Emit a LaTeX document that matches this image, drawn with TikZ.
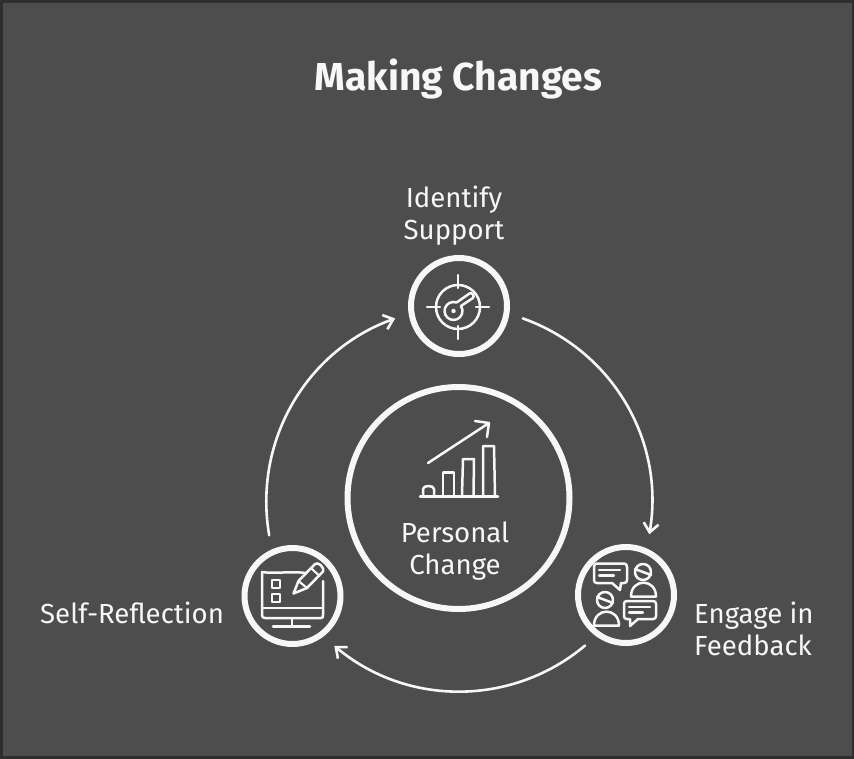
\documentclass[tikz,border=0pt]{standalone}
\usepackage{fontspec}
\setmainfont{Fira Sans}
\usetikzlibrary{arrows.meta}
\definecolor{bgc}{HTML}{4D4D4D}
\definecolor{edgec}{HTML}{2E2E2E}
\definecolor{ink}{HTML}{F7F7F7}
\tikzset{
  ring/.style={circle,draw=ink,line width=6pt,minimum size=96pt,inner sep=0pt,outer sep=17pt},
  hubring/.style={circle,draw=ink,line width=6pt,minimum size=222pt,inner sep=0pt,outer sep=0pt},
  flow/.style={draw=ink,line width=2.6pt,line cap=round,-{Straight Barb[length=9pt,width=15pt,line width=2.6pt]}},
  lbl/.style={text=ink,font=\fontsize{27.6}{32}\selectfont,align=center,inner sep=0pt},
  ico/.style={draw=ink,line width=2.5pt,line cap=round,line join=round},
  ico2/.style={draw=ink,line width=2.1pt,line cap=round,line join=round}
}
\begin{document}
\begin{tikzpicture}[x=1pt,y=-1pt]
\useasboundingbox (0,0) rectangle (854,758);
\fill[bgc] (0,0) rectangle (854,758);
\draw[edgec,line width=3pt] (1,1) rectangle (853,757);
\node[text=ink,font=\fontsize{39}{44}\bfseries,inner sep=0pt] (title) at (458.5,79) {Making Changes};
\node[hubring] (hub) at (458.5,498) {};
\node[ring] (top) at (459,306) {};
\node[ring] (right) at (626,595) {};
\node[ring] (left) at (292.5,596) {};
\node[lbl] (ltop) at (454,216) {Identify\\Support};
\node[lbl] (lhub) at (455,551.5) {Personal\\Change};
\node[lbl,anchor=west] (lleft) at (40,613) {Self-Reflection};
\node[lbl,anchor=west,align=left] (lright) at (694,628.5) {Engage in\\Feedback};
\draw[flow] (top.-11) to[bend left=40,looseness=.97] (right.69);
\draw[flow] (right.-129) to[bend left=40,looseness=.97] (left.-50);
\draw[flow] (left.111) to[bend left=40,looseness=.97] (top.-169);
% target icon
\draw[ico] (458,307) circle (22);
\draw[ico] (458,275) -- (458,288) (458,326) -- (458,339) (427,307) -- (440,307) (476,307) -- (489,307);
\draw[ico] (456.6,302.5) arc[start angle=-70,end angle=-394,radius=9] -- (473,298) .. controls (475,296) and (472,292) .. (469.5,293.5) -- cycle;
\fill[ink] (453.5,311) circle (2.2);
% chart icon
\draw[ico] (420,496.5) -- (498,496.5);
\draw[ico] (423,495) -- (423,489) .. controls (423,485) and (434,485) .. (434,489) -- (434,495);
\draw[ico] (443,495) -- (443,472.5) -- (454,472.5) -- (454,495);
\draw[ico] (462,495) -- (463,459) -- (474,459) -- (473.5,495);
\draw[ico] (483,495) -- (483,446) -- (494,446) -- (495,495);
\draw[ico] (428,463) -- (489,423) (475,421) -- (489,423) -- (487,437);
% monitor icon
\draw[ico] (306,573) .. controls (290,571) and (275,574) .. (262,572) -- (262,615) .. controls (262,617) and (263,618) .. (265,618) -- (321,618) .. controls (323,618) and (323,617) .. (323,615) -- (323,581);
\draw[ico] (263,608) -- (322,608) (292,619) -- (292,626) (273,626.5) -- (310,626.5);
\draw[ico2] (272,580) rectangle (280,588) (272,594) rectangle (280,602);
\draw[ico] (293.5,593.5) -- (298.5,581) -- (315,564) .. controls (318,561) and (325,568) .. (323,571.5) -- (307,588) -- cycle;
\draw[ico2] (298.5,581) -- (307,588) (311,568) -- (319.5,576);
% feedback icon
\draw[ico] (597,563.5) -- (624,563.5) .. controls (626,563.5) and (627,565) .. (627,567) -- (627,580) .. controls (627,582) and (626,583) .. (624,583) -- (621,583) -- (620,590) -- (612,583) -- (597,583) .. controls (595,583) and (594,582) .. (594,580) -- (594,567) .. controls (594,565) and (595,563.5) .. (597,563.5) -- cycle;
\draw[ico2] (599,570) -- (620,570) (599,575.5) -- (614,575.5);
\draw[ico] (643,572) circle (8) (635,569) -- (651,575);
\draw[ico] (631,596.5) .. controls (631,578) and (656,578) .. (656,596.5) -- cycle;
\draw[ico] (627,601) -- (653,601) .. controls (655,601) and (656,602) .. (656,604) -- (656,616) .. controls (656,618) and (655,619) .. (653,619) -- (638,619) -- (630,626) -- (630,619) -- (627,619) .. controls (625,619) and (624,618) .. (624,616) -- (624,604) .. controls (624,602) and (625,601) .. (627,601) -- cycle;
\draw[ico2] (629,607) -- (650,607) (629,612.5) -- (643,612.5);
\draw[ico] (605,600) circle (8) (597,597) -- (613,603);
\draw[ico] (594,625.5) .. controls (594,607) and (619,607) .. (619,625.5) -- cycle;
\end{tikzpicture}
\end{document}
